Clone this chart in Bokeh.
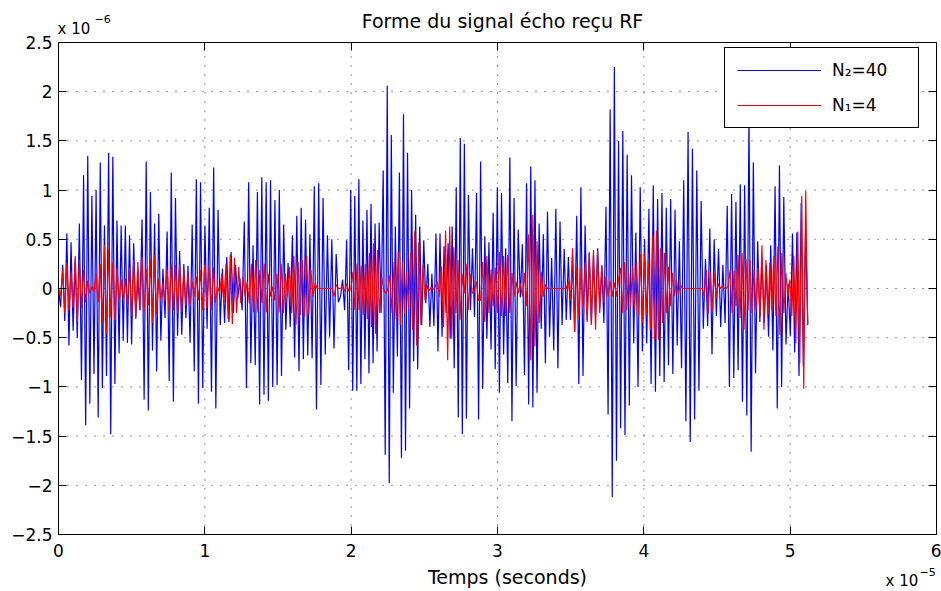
import numpy as np
from bokeh.plotting import figure
from bokeh.models import Range1d, LinearAxis, FixedTicker, Label
from bokeh.embed import file_html
from bokeh.resources import INLINE

# time axis in units of 1e-5 s, amplitude in units of 1e-6
seg_edges = [0.0, 0.9706, 1.9275, 2.8845, 3.8414, 5.12]

blue_1 = [0.0, -0.19, 0.24, -0.33, 0.56, -0.58, 0.47, -0.43, 0.30, -0.50, 0.66, -0.93, 1.15, -1.39, 1.35, -1.17,
          0.94, -0.87, 1.00, -1.31, 1.28, -1.01, 0.64, -0.89, 1.38, -1.48, 1.34, -0.97, 0.69, -0.66, 0.64, -0.53,
          0.64, -0.55, 0.54, -0.57, 0.46, -0.29, 0.10, -0.22, 0.70, -1.13, 1.29, -1.24, 0.98, -0.63, 0.66, -0.84,
          0.76, -0.53, 0.20, -0.30, 0.58, -0.94, 1.18, -1.15, 0.92, -0.48, 0.38, -0.47, 0.25, -0.30, 0.23, -0.55,
          0.65, -0.84, 1.11, -1.17]
blue_2 = [1.08, -1.01, 0.64, -0.41, 0.82, -1.05, 1.23, -1.22, 0.80, -0.37, 0.20, -0.35, 0.32, -0.34, 0.37, -0.25,
          0.24, -0.10, 0.10, -0.22, 0.68, -1.01, 1.08, -0.76, 0.44, -0.78, 0.98, -1.18, 1.13, -1.08, 1.08, -1.14,
          1.10, -1.00, 0.90, -0.98, 1.00, -0.89, 0.65, -0.42, 0.26, -0.39, 0.54, -0.70, 0.74, -0.84, 0.82, -0.72,
          0.70, -0.68, 0.55, -0.71, 1.04, -1.23, 1.07, -0.98, 0.92, -0.67, 0.54, -0.49, 0.50, -0.61, 0.35, -0.14]
blue_3 = [-0.08, 0.09, -0.22, 0.49, -0.83, 1.00, -1.04, 0.94, -1.04, 1.11, -0.97, 0.69, -0.72, 0.80, -0.86, 0.86,
          -0.76, 0.66, -0.64, 0.67, -0.25, 1.20, -1.69, 2.06, -1.98, 1.56, -1.06, 0.63, -0.69, 1.18, -1.72, 1.77,
          -1.65, 1.38, -1.22, 1.00, -0.74, 0.75, -0.82, 0.63, -0.37, 0.49, -0.15, 0.25, -0.39, 0.15, -0.38, 0.56,
          -0.64, 0.56, -0.49, 0.43, -0.25, 0.46, -0.51, 0.63, -0.81, 1.03, -1.31, 1.53, -1.48, 1.47, -1.32, 0.95,
          -0.22, 0.41, -0.29, 0.97, -1.33]
blue_4 = [1.29, -1.02, 0.53, -0.51, 0.47, -0.62, 0.77, -0.82, 1.03, -1.06, 0.97, -0.67, 0.41, -0.96, 1.33, -1.35,
          0.92, -0.99, 0.60, -0.09, 0.45, -0.88, 1.07, -1.18, 1.24, -1.21, 1.10, -1.06, 0.66, -0.41, 0.55, -0.76,
          0.78, -0.49, 0.31, -0.63, 0.81, -0.81, 0.68, -0.37, 0.40, -0.32, 0.32, -0.32, 0.33, -0.44, 0.74, -0.97,
          1.03, -0.89, 0.64, -0.32, 0.36, -0.35, 0.33, -0.28, 0.41, -0.20, 0.22, -0.35, 0.83, -1.28, 1.82, -2.12,
          2.25, -1.75, 1.50]
blue_5 = [-1.42, 1.60, -1.49, 1.36, -1.19, 1.15, -0.56, 0.57, -1.00, 1.03, -0.64, 0.50, -0.56, 0.81, -0.97, 1.05,
          -1.05, 0.91, -0.89, 0.97, -0.95, 0.82, -0.78, 0.91, -0.87, 0.80, -0.58, 0.48, -0.81, 1.10, -1.35, 1.59,
          -1.56, 1.42, -1.33, 1.20, -1.04, 0.89, -0.41, 0.30, -0.38, 0.61, -0.67, 0.50, -0.28, 0.40, -0.39, 0.24,
          -0.35, 0.84, -1.00, 0.96, -0.91, 0.88, -0.83, 1.06, -1.15, 1.05, -1.29, 1.75, -1.66, 1.28, -0.86, 0.48,
          -0.34, 0.31, -0.35, 0.24, -0.49, 0.44, -0.63, 1.04, -1.22, 1.25, -1.00, 0.93, -0.57, 0.05, -0.48, 0.56,
          -0.65, 0.57, -0.89, 0.87, -0.79, 0.60, -0.37]

red_1 = [0.0, -0.08, 0.19, -0.25, 0.26, -0.22, 0.16, -0.20, 0.33, -0.34, 0.29, -0.20, 0.19, -0.14, 0.08, -0.05,
         0.02, -0.03, 0.15, -0.14, 0.25, -0.35, 0.44, -0.46, 0.40, -0.29, 0.27, -0.32, 0.20, -0.13, 0.09, -0.12,
         0.10, -0.17, 0.21, -0.28, 0.29, -0.31, 0.27, -0.22, 0.32, -0.24, 0.20, -0.17, 0.29, -0.35, 0.34, -0.27,
         0.10, -0.11, 0.06, -0.13, 0.20, -0.25, 0.25, -0.22, 0.24, -0.25, 0.24, -0.24, 0.19, -0.17, 0.17, -0.17,
         0.07, -0.08, 0.12, -0.12]
red_2 = [0.19, -0.22, 0.24, -0.20, 0.22, -0.22, 0.22, -0.15, 0.02, -0.05, 0.15, -0.15, 0.25, -0.31, 0.34, -0.36,
         0.31, -0.25, 0.22, -0.15, 0.12, -0.08, 0.07, -0.15, 0.25, -0.24, 0.29, -0.24, 0.19, -0.15, 0.25, -0.24,
         0.15, -0.08, 0.02, -0.12, 0.15, -0.24, 0.25, -0.25, 0.15, -0.08, 0.22, -0.25, 0.33, -0.37, 0.27, -0.27,
         0.29, -0.29, 0.33, -0.27, 0.19, -0.08, 0.05, 0.0, 0.0, 0.0, 0.0, 0.0, 0.0, 0.0, 0.0, -0.08, 0.04, 0.0]
red_3 = [0.0, 0.02, -0.03, 0.05, -0.03, 0.0, 0.17, -0.22, 0.25, -0.22, 0.23, -0.27, 0.25, -0.31, 0.36, -0.39,
         0.46, -0.46, 0.39, -0.25, 0.12, -0.02, -0.05, 0.0, 0.14, -0.25, 0.27, -0.31, 0.37, -0.37, 0.27, -0.25,
         0.17, -0.20, 0.36, -0.42, 0.58, -0.58, 0.47, -0.37, 0.24, -0.12, 0.03, -0.02, 0.01, -0.01, 0.02, 0.07,
         -0.08, 0.22, -0.39, 0.59, -0.73, 0.63, -0.51, 0.42, -0.25, 0.29, -0.32, 0.15, -0.05, 0.25, -0.22, 0.15,
         -0.05, -0.03, 0.07, -0.12]
red_4 = [-0.12, 0.27, -0.34, 0.33, -0.25, 0.19, -0.18, 0.21, -0.25, 0.37, -0.28, 0.33, -0.28, 0.34, -0.25, 0.16,
         -0.08, 0.07, -0.05, 0.05, -0.08, 0.16, -0.18, 0.55, -0.73, 0.75, -0.59, 0.48, -0.35, 0.17, -0.08, 0.04,
         0.0, 0.0, 0.0, 0.0, 0.0, 0.0, 0.0, 0.0, 0.0, 0.0, 0.07, -0.12, 0.41, -0.44, 0.22, -0.30, 0.21, -0.20,
         0.26, -0.34, 0.37, -0.37, 0.39, -0.42, 0.38, -0.25, 0.24, -0.15, 0.12, -0.08, 0.07, -0.08, 0.06, -0.08,
         0.09]
red_5 = [0.21, -0.25, 0.27, -0.22, 0.16, -0.18, 0.22, -0.22, 0.26, -0.28, 0.35, -0.35, 0.36, -0.28, 0.28, -0.42,
         0.53, -0.52, 0.59, -0.52, 0.41, -0.35, 0.36, -0.25, 0.22, -0.18, 0.16, -0.08, 0.09, -0.06, 0.04,
         0.0, 0.0, 0.0, 0.0, 0.0, 0.0, 0.0, 0.0, 0.0, 0.0, 0.0,
         -0.08, 0.19, -0.25, 0.17, -0.22, 0.16, -0.10, 0.05, 0.0, 0.02, 0.0, 0.0, 0.02,
         0.19, -0.25, 0.18, -0.18, 0.34, -0.30, 0.36, -0.42, 0.30, -0.22, 0.29, -0.25, 0.19, -0.22, 0.21, -0.28,
         0.44, -0.42, 0.29, -0.27, 0.26, -0.22, 0.33, -0.28, 0.43, -0.47, 0.36, -0.25, 0.16, -0.08, 0.09, -0.28,
         0.33, -0.56, 0.58, -0.76, 0.94, -1.02, 0.99, -0.36]

x_ticks = [0, 1, 2, 3, 4, 5, 6]
x_tick_labels = ["0", "1", "2", "3", "4", "5", "6"]
y_ticks = [-2.5, -2, -1.5, -1, -0.5, 0, 0.5, 1, 1.5, 2, 2.5]
y_tick_labels = ["\u22122.5", "\u22122", "\u22121.5", "\u22121", "\u22120.5", "0", "0.5", "1", "1.5", "2", "2.5"]

series_names = ["N\u2082=40", "N\u2081=4"]
title_text = "Forme du signal \u00e9cho re\u00e7u RF"
xlabel_text = "Temps (seconds)"

FONT = "DejaVu Sans"
W, H = 941, 591
# plot box in canvas pixels (left, right, top, bottom)
BOX_L, BOX_R, BOX_T, BOX_B = 58, 936, 42, 534
x0, x1 = x_ticks[0], x_ticks[-1]
y0, y1 = y_ticks[0], y_ticks[-1]
kx = (BOX_R - BOX_L) / (x1 - x0)
ky = (BOX_B - BOX_T) / (y1 - y0)


def build(segs):
    ts, vs = [], []
    for i, seg in enumerate(segs):
        last = i == len(segs) - 1
        t = np.linspace(seg_edges[i], seg_edges[i + 1], len(seg), endpoint=last)
        ts.extend(t.tolist())
        vs.extend(seg)
    return ts, vs


t_blue, v_blue = build([blue_1, blue_2, blue_3, blue_4, blue_5])
t_red, v_red = build([red_1, red_2, red_3, red_4, red_5])

# the frame covers the whole canvas; the plot box is drawn by fixed-location axes
x_range = Range1d(x0 - BOX_L / kx, x1 + (W - BOX_R) / kx)
y_range = Range1d(y0 - (H - BOX_B) / ky, y1 + BOX_T / ky)

p = figure(width=W, height=H, x_range=x_range, y_range=y_range,
           output_backend="svg", toolbar_location=None,
           min_border_left=0, min_border_right=0, min_border_top=0, min_border_bottom=0)
p.background_fill_color = "white"
p.border_fill_color = "white"
p.outline_line_color = None
p.xgrid.visible = False
p.ygrid.visible = False

# dotted grid at the tick values, limited to the plot box
p.segment(x0=x_ticks, y0=[y0] * len(x_ticks), x1=x_ticks, y1=[y1] * len(x_ticks),
          line_color="black", line_alpha=0.8, line_width=1, line_dash="1 8")
p.segment(x0=[x0] * len(y_ticks), y0=y_ticks, x1=[x1] * len(y_ticks), y1=y_ticks,
          line_color="black", line_alpha=0.8, line_width=1, line_dash="1 8")

p.line(t_blue, v_blue, line_color="#0000ff", line_width=1.2, legend_label=series_names[0])
p.line(t_red, v_red, line_color="#ff0000", line_width=1.2, legend_label=series_names[1])


def style_axis(ax, ticks, labels=None, show_labels=True, standoff=6):
    ax.ticker = FixedTicker(ticks=ticks)
    ax.major_tick_in = 8
    ax.major_tick_out = 0
    ax.minor_tick_in = 0
    ax.minor_tick_out = 0
    ax.axis_line_color = "black"
    ax.axis_line_width = 1
    ax.major_tick_line_color = "black"
    if show_labels:
        ax.major_label_overrides = {t: l for t, l in zip(ticks, labels)}
        ax.major_label_text_font = FONT
        ax.major_label_text_font_size = "17px"
        ax.major_label_text_color = "black"
        ax.major_label_standoff = standoff
    else:
        ax.major_label_overrides = {t: "" for t in ticks}
        ax.major_label_text_font_size = "1px"
        ax.major_label_standoff = 0


ax_b = p.xaxis[0]
style_axis(ax_b, x_ticks, x_tick_labels, True, 9)
ax_b.fixed_location = y0
ax_b.bounds = (x0, x1)

ax_l = p.yaxis[0]
style_axis(ax_l, y_ticks, y_tick_labels, True, 6)
ax_l.fixed_location = x0
ax_l.bounds = (y0, y1)

ax_t = LinearAxis(fixed_location=y1, bounds=(x0, x1))
style_axis(ax_t, x_ticks, show_labels=False)
p.add_layout(ax_t, "above")

ax_r = LinearAxis(fixed_location=x1, bounds=(y0, y1))
style_axis(ax_r, y_ticks, show_labels=False)
p.add_layout(ax_r, "right")

lg = p.legend[0]
lg.location = (724, H - 128)
lg.border_line_color = "black"
lg.border_line_width = 1
lg.border_line_alpha = 1
lg.background_fill_color = "white"
lg.background_fill_alpha = 1
lg.padding = 12
lg.spacing = 15
lg.margin = 0
lg.glyph_width = 84
lg.glyph_height = 20
lg.label_height = 20
lg.label_width = 74
lg.label_standoff = 11
lg.label_text_font = FONT
lg.label_text_font_size = "17px"
lg.label_text_color = "black"


def add_text(px, py, text, size, align="left"):
    # px, py: canvas pixel position of the text's left/centre edge and vertical middle
    p.add_layout(Label(x=x0 + (px - BOX_L) / kx, y=y1 - (py - BOX_T) / ky, text=text,
                       text_font=FONT, text_font_size=size, text_align=align,
                       text_baseline="middle", text_color="black"))


add_text(502, 20, title_text, "19px", "center")
add_text(507, 576, xlabel_text, "19px", "center")
add_text(57, 28.5, "x 10", "15px")
add_text(94, 18, "\u22126", "11px")
add_text(885, 580.5, "x 10", "15px")
add_text(919, 571, "\u22125", "11px")

open("out.html", "w").write(file_html(p, INLINE))
